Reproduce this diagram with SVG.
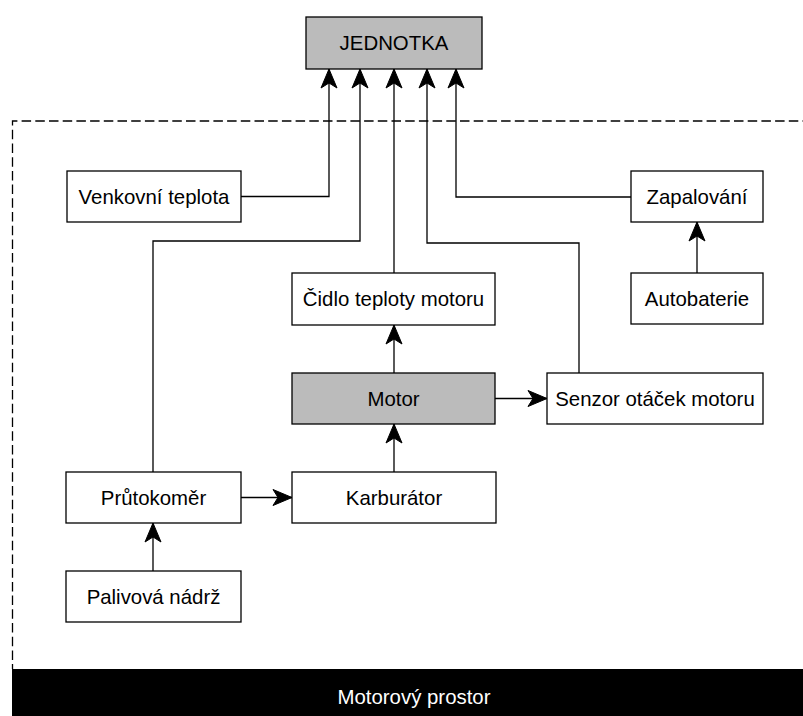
<svg xmlns="http://www.w3.org/2000/svg" width="803" height="716" viewBox="0 0 803 716">
<style>
.box{fill:#fff;stroke:#000;stroke-width:1.3}
.gray{fill:#bbb;stroke:#000;stroke-width:1.3}
.lbl{font-family:"Liberation Sans",Arial,sans-serif;font-size:20.4px;fill:#000;text-anchor:middle;dominant-baseline:central}
.conn{fill:none;stroke:#000;stroke-width:1.3;marker-end:url(#arr)}
</style>
<defs>
<marker id="arr" markerUnits="userSpaceOnUse" viewBox="-20 -10 22 20" refX="0" refY="0" markerWidth="22" markerHeight="20" orient="auto">
<path d="M0,0 L-19,-8 L-14,0 L-19,8 Z" fill="#000" stroke="#000" stroke-width="1"/>
</marker>
</defs>
<rect width="803" height="716" fill="#fff"/>
<g id="region">
<path d="M812,121 H12.5 V669" fill="none" stroke="#000" stroke-width="1.3" stroke-dasharray="9.5 4.2"/>
<rect x="12" y="669" width="791" height="47" fill="#000"/>
<text class="lbl" x="414" y="697" style="fill:#fff">Motorový prostor</text>
</g>
<g id="connectors">
<polyline class="conn" points="241,196.5 329,196.5 329,69"/>
<polyline class="conn" points="153,472 153,241 360,241 360,69"/>
<polyline class="conn" points="394,273 394,69"/>
<polyline class="conn" points="579,373 579,243 427,243 427,69"/>
<polyline class="conn" points="631,197 456,197 456,69"/>
<polyline class="conn" points="697,273 697,222"/>
<polyline class="conn" points="394,373 394,325"/>
<polyline class="conn" points="495,398.5 547,398.5"/>
<polyline class="conn" points="394,472 394,424"/>
<polyline class="conn" points="241,497.5 292,497.5"/>
<polyline class="conn" points="153,571 153,523"/>
</g>
<g id="jednotka"><rect class="gray" x="306" y="17" width="176" height="52"/><text class="lbl" x="394" y="43">JEDNOTKA</text></g>
<g id="venkovni"><rect class="box" x="67" y="171" width="174" height="51"/><text class="lbl" x="154" y="196.5">Venkovní teplota</text></g>
<g id="zapalovani"><rect class="box" x="631" y="171" width="132" height="51"/><text class="lbl" x="697" y="196.5">Zapalování</text></g>
<g id="autobaterie"><rect class="box" x="631" y="273" width="132" height="51"/><text class="lbl" x="697" y="298.5">Autobaterie</text></g>
<g id="cidlo"><rect class="box" x="292" y="273" width="203" height="52"/><text class="lbl" x="393.5" y="299">Čidlo teploty motoru</text></g>
<g id="motor"><rect class="gray" x="292" y="373" width="203" height="51"/><text class="lbl" x="393.5" y="398.5">Motor</text></g>
<g id="senzor"><rect class="box" x="547" y="373" width="216" height="51"/><text class="lbl" x="655" y="398.5">Senzor otáček motoru</text></g>
<g id="prutokomer"><rect class="box" x="66" y="472" width="175" height="51"/><text class="lbl" x="153.5" y="497.5">Průtokoměr</text></g>
<g id="karburator"><rect class="box" x="292" y="472" width="204" height="51"/><text class="lbl" x="394" y="497.5">Karburátor</text></g>
<g id="palivova"><rect class="box" x="66" y="571" width="175" height="51"/><text class="lbl" x="153.5" y="596.5">Palivová nádrž</text></g>
</svg>
